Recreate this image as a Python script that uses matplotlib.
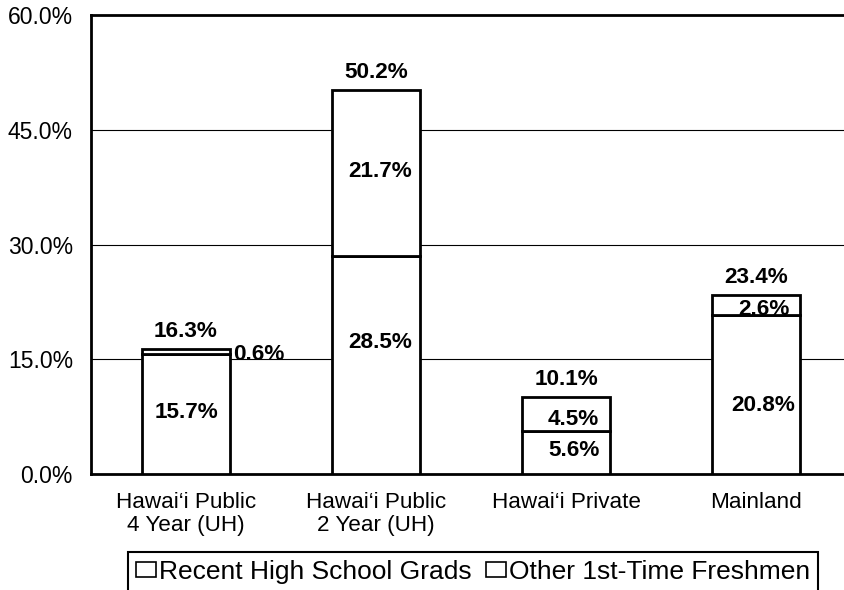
import matplotlib
matplotlib.use("Agg")
import matplotlib.pyplot as plt
import numpy as np

categories = ["Hawai\u2018i Public\n4 Year (UH)", "Hawai\u2018i Public\n2 Year (UH)",
              "Hawai\u2018i Private", "Mainland"]
recent_hs = [15.7, 28.5, 5.6, 20.8]
other_fresh = [0.6, 21.7, 4.5, 2.6]
totals = [16.3, 50.2, 10.1, 23.4]
series_names = ["Recent High School Grads", "Other 1st-Time Freshmen"]
yticks = [0, 15, 30, 45, 60]

plt.rcParams['font.family'] = ['Liberation Sans', 'DejaVu Sans']

fig = plt.figure(figsize=(8.44, 5.9), dpi=100)
ax = fig.add_axes([91/844, 1-474/590, 760/844, (474-15)/590])

x = np.arange(len(categories))
w = 0.46
b1 = ax.bar(x, recent_hs, w, color='white', edgecolor='black', linewidth=2,
            label=series_names[0], zorder=3)
b2 = ax.bar(x, other_fresh, w, bottom=recent_hs, color='white', edgecolor='black',
            linewidth=2, label=series_names[1], zorder=3)

ax.set_xlim(-0.5, 3.5)
ax.set_ylim(0, 60)
ax.set_yticks(yticks)
ax.set_yticklabels([f"{v:.1f}%" for v in yticks], fontsize=16.5)
ax.set_xticks(x)
ax.set_xticklabels(categories, fontsize=16.2, linespacing=1.15)
ax.tick_params(axis='both', length=0)
ax.tick_params(axis='y', pad=13)
ax.tick_params(axis='x', pad=13)

for yv in yticks[1:-1]:
    ax.axhline(yv, color='black', linewidth=0.8, zorder=1)

for side in ['left', 'top', 'bottom']:
    ax.spines[side].set_linewidth(2)
ax.spines['right'].set_visible(False)

fs_lab = 16.2
lab_kw = dict(fontsize=fs_lab, fontweight='bold', ha='center', va='center', zorder=5)
# label placement tweaks (data units)
low_dy = [0.25, 3.0, 0.3, -1.4]
up_dx = [0, 0.02, 0.04, 0.04]
up_dy = [0, 0.2, -0.75, -0.6]
for i in range(len(categories)):
    ax.text(x[i], totals[i] + 2.3, f"{totals[i]:.1f}%", **lab_kw)
    ax.text(x[i] + up_dx[i], recent_hs[i] / 2 + low_dy[i], f"{recent_hs[i]:.1f}%", **lab_kw)
    if i == 0:
        ax.text(x[i] + w / 2 + 0.02, recent_hs[i] - 0.1, f"{other_fresh[i]:.1f}%",
                fontsize=fs_lab, fontweight='bold', ha='left', va='center', zorder=5)
    else:
        ax.text(x[i] + up_dx[i], recent_hs[i] + other_fresh[i] / 2 + up_dy[i],
                f"{other_fresh[i]:.1f}%", **lab_kw)

leg = fig.legend(handles=[b1, b2], labels=series_names, loc='upper center',
                 bbox_to_anchor=(473/844, 1-552/590), ncol=2, fontsize=19,
                 frameon=True, fancybox=False, edgecolor='black', framealpha=1,
                 handlelength=0.75, handleheight=0.45, handletextpad=0.12,
                 columnspacing=0.55, borderpad=0.3, borderaxespad=0)
leg.get_frame().set_linewidth(1.5)
for h in leg.legend_handles:
    h.set_linewidth(1.2)

fig.savefig("out.png", dpi=100)
